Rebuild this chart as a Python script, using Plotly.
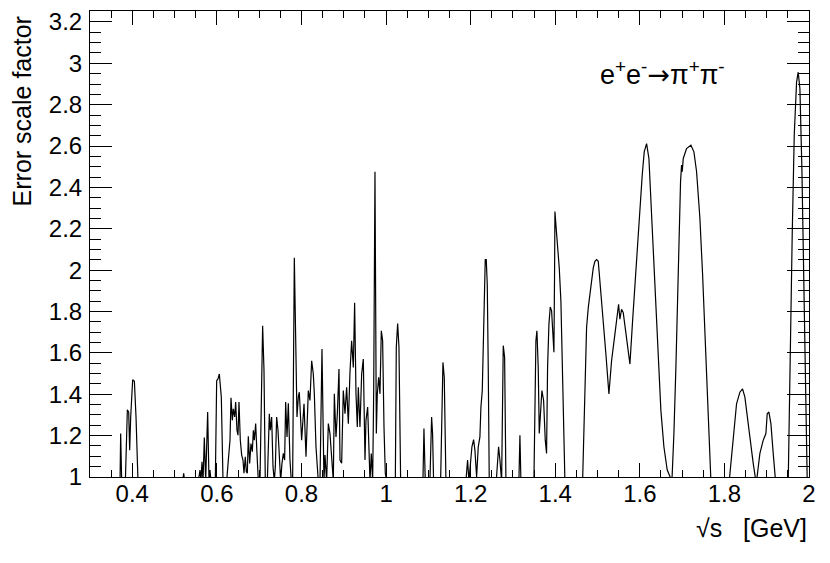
import plotly.graph_objects as go

# sqrt(s) [GeV] and error scale factor
# (values below 1 are clipped by the axis range, like in the original)
low_x = [0.300, 0.371, 0.3725, 0.3749, 0.3836, 0.3883, 0.3915, 0.3938, 0.3962,
         0.4009, 0.4049, 0.4088, 0.4135, 0.5191, 0.5215, 0.5238]
low_y = [0.98, 0.98, 1.21, 0.98, 0.98, 1.325, 1.314, 1.13, 1.29,
         1.47, 1.463, 1.29, 0.98, 0.98, 1.018, 0.98]

rho_x = [0.5561, 0.5601, 0.5624, 0.5648, 0.5672, 0.5703, 0.5735, 0.5782, 0.5814,
         0.5837, 0.5861, 0.5963, 0.5995, 0.6026, 0.6058, 0.6081, 0.6105, 0.6145,
         0.6231, 0.6271, 0.6310, 0.6334, 0.6365, 0.6389, 0.6420, 0.6444, 0.6475,
         0.6499, 0.6523, 0.6554, 0.6586, 0.6617, 0.6641, 0.6672, 0.6696, 0.6720,
         0.6743, 0.6775, 0.6806, 0.6838, 0.6862, 0.6885, 0.6917, 0.6948, 0.6980,
         0.7019, 0.7051, 0.7082, 0.7114, 0.7145, 0.7193, 0.7240, 0.7264, 0.7295,
         0.7327, 0.7358, 0.7382, 0.7413, 0.7445, 0.7476, 0.7508, 0.7539, 0.7571,
         0.7602, 0.7626, 0.7658, 0.7689, 0.7728, 0.7760, 0.7791, 0.7831, 0.7855,
         0.7875, 0.7894, 0.7925, 0.7949]
rho_y = [0.98, 1.034, 0.98, 1.074, 0.98, 1.191, 0.98, 1.314, 0.98,
         1.034, 0.98, 0.98, 1.466, 1.474, 1.498, 1.45, 1.386, 0.98,
         0.98, 1.082, 1.178, 1.383, 1.274, 1.33, 1.29, 1.362, 1.226,
         1.202, 1.362, 1.178, 1.106, 1.082, 1.018, 1.098, 1.026, 1.018,
         1.197, 1.066, 1.162, 1.122, 1.226, 1.178, 1.258, 1.114, 0.98,
         0.98, 1.434, 1.731, 1.514, 0.98, 0.98, 1.306, 1.226, 1.29,
         1.05, 0.98, 1.05, 1.29, 1.226, 1.066, 0.98, 1.066, 1.114,
         1.082, 1.362, 1.194, 1.357, 1.082, 0.98, 0.98, 2.06, 1.77,
         1.42, 1.29, 1.386, 1.41]

omega_phi_x = [0.8004, 0.8060, 0.8107, 0.8162, 0.8201, 0.8241, 0.8280, 0.8304, 0.8343,
               0.8398, 0.8438, 0.8485, 0.8532, 0.8556, 0.8595, 0.8635, 0.8674, 0.8714,
               0.8753, 0.8777, 0.8816, 0.8848, 0.8887, 0.8911, 0.8950, 0.8989, 0.9029,
               0.9068, 0.9108, 0.9147, 0.9186, 0.9226, 0.9257, 0.9289, 0.9320, 0.9344,
               0.9383, 0.9423, 0.9462, 0.9502, 0.9525, 0.9565, 0.9596, 0.9620, 0.9651,
               0.9683, 0.9707, 0.9738, 0.9770, 0.9793, 0.9825, 0.9856, 0.9888, 0.9919,
               0.9951, 0.9982, 1.0014, 1.0219, 1.0242, 1.0274, 1.0305, 1.0345]
omega_phi_y = [1.178, 1.354, 1.098, 1.418, 1.37, 1.562, 1.498, 1.402, 1.146,
               0.98, 0.98, 1.619, 0.98, 1.106, 0.98, 1.258, 1.21, 1.082,
               0.98, 1.402, 1.194, 1.306, 1.522, 1.082, 1.066, 1.418, 1.306,
               1.434, 1.258, 1.506, 1.659, 1.53, 1.843, 1.402, 1.242, 1.434,
               1.242, 1.498, 1.57, 1.082, 1.274, 1.338, 1.098, 0.98, 1.114,
               0.98, 1.402, 2.476, 1.21, 1.402, 1.482, 1.402, 1.707, 1.659,
               1.242, 1.018, 0.98, 0.98, 1.627, 1.742, 1.627, 0.98]

mid_x = [1.0840, 1.0872, 1.0896, 1.0927, 1.1037, 1.1077, 1.1100, 1.1124, 1.1290,
         1.1345, 1.1376, 1.1416, 1.1888, 1.1928, 1.1959, 1.1999, 1.2030, 1.2070,
         1.2101, 1.2141, 1.2180, 1.2219, 1.2243, 1.2275, 1.2298, 1.2322, 1.2345,
         1.2369, 1.2393, 1.2416, 1.2440, 1.2606, 1.2661, 1.2692, 1.2716, 1.2732,
         1.2771, 1.2803, 1.2834, 1.3141, 1.3165, 1.3189, 1.3496, 1.3543, 1.3567,
         1.3598, 1.3622, 1.3654, 1.3685, 1.3725, 1.3764, 1.3795, 1.3819, 1.3851,
         1.3882, 1.3914, 1.3953, 1.3969, 1.3985, 1.3993, 1.4016, 1.4055, 1.4095,
         1.4134, 1.4174, 1.4205, 1.4229, 1.4647, 1.4686, 1.4741, 1.4781, 1.4836,
         1.4899, 1.4938]
mid_y = [0.98, 0.98, 1.234, 0.98, 0.98, 1.29, 1.21, 0.98, 0.98,
         1.554, 1.482, 0.98, 0.98, 1.082, 0.98, 1.066, 1.146, 1.181,
         1.13, 1.0, 1.146, 1.194, 1.338, 1.418, 1.61, 1.851, 2.051,
         2.051, 1.931, 1.53, 0.98, 0.98, 1.146, 1.082, 0.98, 0.98,
         1.635, 1.579, 0.98, 0.98, 1.202, 0.98, 0.98, 1.659, 1.707,
         1.53, 1.21, 1.338, 1.418, 1.37, 1.178, 1.114, 1.53, 1.739,
         1.822, 1.803, 1.627, 1.603, 2.011, 2.284, 2.219, 2.123, 2.011,
         1.851, 1.53, 1.21, 0.98, 0.98, 1.29, 1.723, 1.819, 1.915,
         2.011, 2.043]

high_x = [1.4978, 1.5017, 1.5080, 1.5135, 1.5198, 1.5269, 1.5332, 1.5411, 1.5450,
          1.5498, 1.5529, 1.5569, 1.5608, 1.5671, 1.5726, 1.5766, 1.5829, 1.5907,
          1.6002, 1.6057, 1.6104, 1.6160, 1.6215, 1.6262, 1.6317, 1.6380, 1.6435,
          1.6498, 1.6569, 1.6648, 1.6759, 1.6806, 1.6853, 1.6908, 1.6963, 1.6987,
          1.7003, 1.7027, 1.7105, 1.7208, 1.7279, 1.7342, 1.7420, 1.7484, 1.7539,
          1.7594, 1.7641, 1.7681, 1.8114, 1.8209, 1.8287, 1.8366, 1.8429, 1.8484,
          1.8540, 1.8603, 1.8681, 1.8744, 1.8760, 1.8839, 1.8918, 1.8981, 1.9012,
          1.9052, 1.9099, 1.9154, 1.9209, 1.9509, 1.9548, 1.9603, 1.9651, 1.9706,
          1.9745, 1.9785, 1.9832, 1.9879, 1.9927, 1.9958]
high_y = [2.051, 2.043, 1.899, 1.755, 1.595, 1.402, 1.562, 1.691, 1.771,
          1.835, 1.763, 1.811, 1.795, 1.691, 1.595, 1.546, 1.755, 2.011,
          2.30, 2.46, 2.572, 2.612, 2.54, 2.332, 2.075, 1.819, 1.562,
          1.322, 1.146, 1.034, 0.98, 1.21, 1.53, 2.011, 2.428, 2.508,
          2.476, 2.54, 2.588, 2.604, 2.572, 2.476, 2.252, 1.979, 1.691,
          1.37, 1.13, 0.98, 0.98, 1.178, 1.354, 1.41, 1.426, 1.386,
          1.29, 1.178, 1.066, 0.98, 0.98, 1.114, 1.178, 1.21, 1.306,
          1.314, 1.258, 1.114, 0.98, 0.98, 1.53, 2.171, 2.652, 2.909,
          2.957, 2.877, 2.492, 1.851, 1.21, 0.98]

sqrt_s = low_x + rho_x + omega_phi_x + mid_x + high_x
scale = low_y + rho_y + omega_phi_y + mid_y + high_y

font = "Liberation Sans, Arial, Helvetica, sans-serif"

fig = go.Figure()
fig.add_trace(go.Scatter(x=sqrt_s, y=scale, mode="lines",
                         line=dict(color="black", width=1.2),
                         showlegend=False, hoverinfo="skip"))

fig.update_layout(
    width=830, height=563,
    margin=dict(l=90, r=21, t=8, b=86),
    paper_bgcolor="white", plot_bgcolor="white",
    font=dict(family=font, size=24, color="black"),
    xaxis=dict(
        range=[0.3, 2.0], tick0=0.4, dtick=0.2,
        ticks="inside", ticklen=14, tickcolor="black", tickwidth=1,
        showline=True, linecolor="black", linewidth=1, mirror="allticks",
        showgrid=False, zeroline=False, ticklabelstandoff=-5,
        minor=dict(dtick=0.05, ticks="inside", ticklen=7, tickcolor="black"),
    ),
    yaxis=dict(
        range=[1, 3.253], tick0=1, dtick=0.2,
        ticks="inside", ticklen=22, tickcolor="black", tickwidth=1,
        showline=True, linecolor="black", linewidth=1, mirror="allticks",
        showgrid=False, zeroline=False, ticklabelstandoff=2,
        ticklabeloverflow="allow",
        minor=dict(dtick=0.05, ticks="inside", ticklen=11, tickcolor="black"),
    ),
    annotations=[
        dict(text="\u221as\u00a0\u00a0\u00a0[GeV]", xref="paper", yref="paper",
             x=1.0, y=-0.109, xanchor="right", yanchor="middle",
             showarrow=False, font=dict(size=25)),
        dict(text="Error scale factor", xref="paper", yref="paper",
             x=-0.095, y=0.992, xanchor="center", yanchor="top",
             textangle=-90, showarrow=False, font=dict(size=25)),
        dict(text="e<sup>+</sup>e<sup>-</sup>"
                  "<span style='font-family:DejaVu Sans'>\u2192</span>"
                  "\u03c0<sup>+</sup>\u03c0<sup>-</sup>",
             xref="paper", yref="paper", x=0.796, y=0.868,
             xanchor="center", yanchor="middle", showarrow=False,
             font=dict(size=27)),
    ],
)

# drop the browser's default 8px body margin so the figure sits at (0, 0)
fig.write_html("out.html", config={"displayModeBar": False},
               post_script="document.body.style.margin='0';")
